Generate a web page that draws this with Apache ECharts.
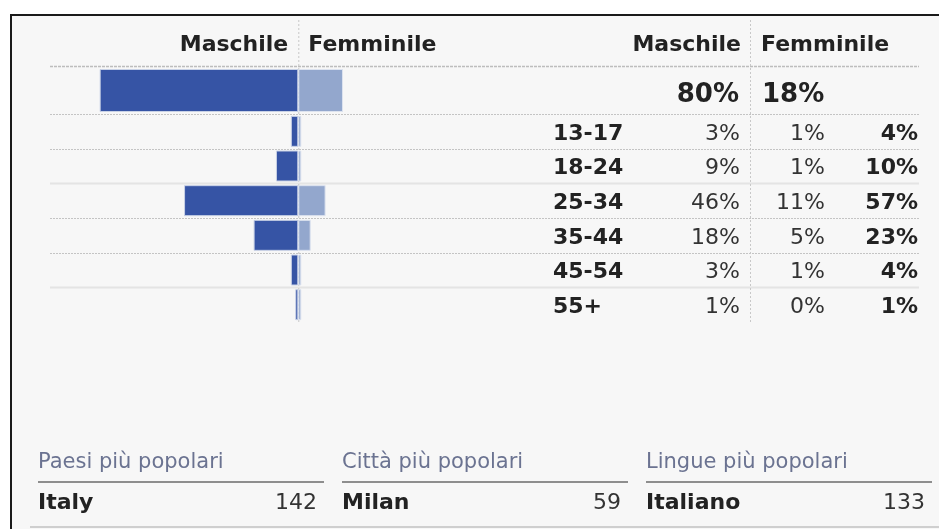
<!DOCTYPE html>
<html><head><meta charset="utf-8">
<script src="https://cdn.jsdelivr.net/npm/echarts@6/dist/echarts.min.js"></script>
<style>html,body{margin:0;padding:0;background:#fff}#c{width:939px;height:529px}</style>
</head><body><div id="c"></div>
<script>
// ---- data ----
const ages = ['13-17', '18-24', '25-34', '35-44', '45-54', '55+'];
const maleVals = [3, 9, 46, 18, 3, 1];
const femaleVals = [1, 1, 11, 5, 1, 0];
const totalVals = [4, 10, 57, 23, 4, 1];
const totalMale = [80];
const totalFemale = [18];
const headerLabels = ['Maschile', 'Femminile'];
const topTitles = ['Paesi più popolari', 'Città più popolari', 'Lingue più popolari'];
const topNames = ['Italy', 'Milan', 'Italiano'];
const topValues = [142, 59, 133];

const FONT = 'DejaVu Sans';
const MALE = '#3654a5', FEMALE = '#93a7cd';
const chart = echarts.init(document.getElementById('c'));

const gTop0 = 67, gH0 = 47, gTop1 = 114, gH1 = 208;
const axBase = {type: 'value', min: -100, max: 250, show: false};
const catBase = {
  type: 'category', axisLine: {show: false}, axisTick: {show: false},
  splitLine: {show: false}
};
const bigRich = {v: {fontFamily: FONT, fontWeight: 'bold', fontSize: 26, color: '#222', padding: [9, 0, 0, 0]}};
const option = {
  animation: false,
  backgroundColor: '#ffffff',
  grid: [
    {left: 50, right: 20, top: gTop0, height: gH0},
    {left: 50, right: 20, top: gTop1, height: gH1}
  ],
  xAxis: [Object.assign({gridIndex: 0}, axBase), Object.assign({gridIndex: 1}, axBase)],
  yAxis: [
    // total row, male column (right aligned at the divider)
    Object.assign({}, catBase, {
      gridIndex: 0, data: ['Totale'], position: 'right', offset: -179,
      axisLabel: {inside: true, margin: 1, formatter: () => '{v|' + totalMale[0] + '%}', rich: bigRich}
    }),
    // age rows
    Object.assign({}, catBase, {
      gridIndex: 1, data: ages, inverse: true, position: 'right',
      axisLabel: {
        inside: true, margin: 1, padding: [5, 0, 0, 0],
        formatter: (v, i) => '{a|' + v + '}{m|' + maleVals[i] + '%}{f|' + femaleVals[i] + '%}{t|' + totalVals[i] + '%}',
        rich: {
          a: {width: 90, align: 'left', fontFamily: FONT, fontWeight: 'bold', fontSize: 22, color: '#222'},
          m: {width: 97, align: 'right', fontFamily: FONT, fontSize: 22, color: '#333'},
          f: {width: 85, align: 'right', fontFamily: FONT, fontSize: 22, color: '#333'},
          t: {width: 93, align: 'right', fontFamily: FONT, fontWeight: 'bold', fontSize: 22, color: '#222'}
        }
      }
    }),
    // total row, female column (left aligned after the divider)
    Object.assign({}, catBase, {
      gridIndex: 0, data: ['Totale'], position: 'left', offset: -711,
      axisLabel: {inside: true, margin: 1, formatter: () => '{v|' + totalFemale[0] + '%}', rich: bigRich}
    })
  ],
  series: [
    {type: 'bar', xAxisIndex: 0, yAxisIndex: 0, data: totalMale.map(v => -v), barWidth: 43,
     itemStyle: {color: MALE, borderColor: '#c9d2e6', borderWidth: 1}},
    {type: 'bar', xAxisIndex: 0, yAxisIndex: 0, data: totalFemale, barWidth: 43, barGap: '-100%',
     itemStyle: {color: FEMALE, borderColor: '#dde3ef', borderWidth: 1}},
    {type: 'bar', xAxisIndex: 1, yAxisIndex: 1, data: maleVals.map(v => -v), barWidth: 31, barMinHeight: 3,
     itemStyle: {color: MALE, borderColor: '#c9d2e6', borderWidth: 1}},
    {type: 'bar', xAxisIndex: 1, yAxisIndex: 1, data: femaleVals, barWidth: 31, barGap: '-100%', barMinHeight: 3,
     itemStyle: {color: FEMALE, borderColor: '#dde3ef', borderWidth: 1}}
  ]
};
chart.setOption(option);

// ---- decorations computed from the axes ----
const x0 = chart.convertToPixel({xAxisIndex: 1}, 0);
const lineL = 50, lineR = 919;
const els = [];
els.push({type: 'rect', z: -10, shape: {x: 10, y: 14, width: 929, height: 515}, style: {fill: '#f7f7f7'}});
els.push({type: 'line', z: -9, shape: {x1: 10, y1: 15, x2: 939, y2: 15}, style: {stroke: '#1a1a1a', lineWidth: 2}});
els.push({type: 'line', z: -9, shape: {x1: 11, y1: 14, x2: 11, y2: 529}, style: {stroke: '#1a1a1a', lineWidth: 2}});

// row separators
const dotted = {stroke: '#c4c4c4', lineWidth: 1, lineDash: [2, 1]};
const solid = {stroke: '#e4e4e4', lineWidth: 2};
els.push({type: 'line', z: -8, shape: {x1: lineL, y1: gTop0 - 0.5, x2: lineR, y2: gTop0 - 0.5}, style: {stroke: '#bdbdbd', lineWidth: 1.5, lineDash: [3, 1]}});
const c0 = chart.convertToPixel({yAxisIndex: 1}, ages[0]);
const c1 = chart.convertToPixel({yAxisIndex: 1}, ages[1]);
const band = c1 - c0;
ages.forEach((a, i) => {
  const y = Math.round(chart.convertToPixel({yAxisIndex: 1}, a) - band / 2) + 0.5;
  const st = (i % 3 === 2) ? solid : dotted;
  els.push({type: 'line', z: -8, shape: {x1: lineL, y1: y, x2: lineR, y2: y}, style: st});
});
// vertical dotted dividers
const yEnd = gTop1 + gH1;
els.push({type: 'line', z: -7, shape: {x1: x0 + 0.5, y1: 20, x2: x0 + 0.5, y2: yEnd}, style: {stroke: '#c8c8c8', lineWidth: 1, lineDash: [2, 2]}});
els.push({type: 'line', z: -7, shape: {x1: 750.5, y1: 20, x2: 750.5, y2: yEnd}, style: {stroke: '#c8c8c8', lineWidth: 1, lineDash: [2, 2]}});

// header texts
const hStyle = {fontFamily: FONT, fontWeight: 'bold', fontSize: 22, fill: '#222', textVerticalAlign: 'middle'};
els.push({type: 'text', style: Object.assign({text: headerLabels[0], x: x0 - 10, y: 45, textAlign: 'right'}, hStyle)});
els.push({type: 'text', style: Object.assign({text: headerLabels[1], x: x0 + 10, y: 45, textAlign: 'left'}, hStyle)});
els.push({type: 'text', style: Object.assign({text: headerLabels[0], x: 741, y: 45, textAlign: 'right'}, hStyle)});
els.push({type: 'text', style: Object.assign({text: headerLabels[1], x: 761, y: 45, textAlign: 'left'}, hStyle)});

// bottom "most popular" section
const colStart = [38, 342, 646], colW = 286;
topTitles.forEach((t, i) => {
  const x = colStart[i];
  els.push({type: 'text', style: {text: t, x: x, y: 463, textAlign: 'left', textVerticalAlign: 'middle', fontFamily: FONT, fontSize: 21, fill: '#6b7391'}});
  els.push({type: 'line', shape: {x1: x, y1: 482, x2: x + colW, y2: 482}, style: {stroke: '#8e8e8e', lineWidth: 2}});
  els.push({type: 'text', style: {text: topNames[i], x: x, y: 503, textAlign: 'left', textVerticalAlign: 'middle', fontFamily: FONT, fontWeight: 'bold', fontSize: 22, fill: '#222'}});
  els.push({type: 'text', style: {text: String(topValues[i]), x: x + 279, y: 503, textAlign: 'right', textVerticalAlign: 'middle', fontFamily: FONT, fontSize: 22, fill: '#333'}});
});
els.push({type: 'line', shape: {x1: 30, y1: 527, x2: 939, y2: 527}, style: {stroke: '#cfcfcf', lineWidth: 2}});

chart.setOption({graphic: {elements: els}});
</script>
</body></html>
